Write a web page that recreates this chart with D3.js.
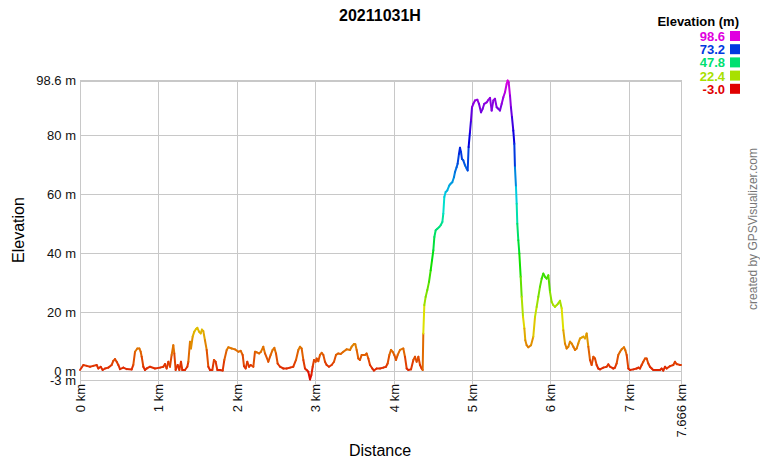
<!DOCTYPE html>
<html>
<head>
<meta charset="utf-8">
<script src="https://cdn.jsdelivr.net/npm/d3@7"></script>
<style>
  body { margin: 0; background: #fff; }
  svg { font-family: "Liberation Sans", Arial, sans-serif; }
</style>
</head>
<body>
<div id="container"></div>
<script>
// track profile (km, m)
let distKm = [
  0.000,0.043,0.085,0.128,0.170,0.213,0.234,0.264,0.289,0.319,0.361,0.404,0.425,0.446,0.468,0.489,0.510,0.553,0.595,0.659,
  0.680,0.702,0.731,0.757,0.774,0.787,0.808,0.829,0.850,0.893,0.957,1.020,1.063,1.084,1.105,1.127,1.148,1.169,1.190,1.203,
  1.220,1.246,1.267,1.288,1.305,1.339,1.369,1.382,1.403,1.416,1.437,1.458,1.480,1.497,1.518,1.539,1.556,1.573,1.594,1.616,
  1.637,1.658,1.688,1.709,1.730,1.752,1.786,1.820,1.841,1.871,1.892,1.935,1.977,2.020,2.049,2.075,2.092,2.113,2.134,2.156,
  2.177,2.211,2.232,2.253,2.283,2.309,2.338,2.360,2.402,2.432,2.457,2.479,2.500,2.521,2.551,2.594,2.636,2.679,2.721,2.755,
  2.785,2.806,2.827,2.849,2.870,2.891,2.912,2.934,2.951,2.968,2.985,3.006,3.019,3.040,3.061,3.083,3.104,3.125,3.146,3.176,
  3.210,3.240,3.265,3.295,3.325,3.359,3.401,3.444,3.465,3.495,3.512,3.529,3.550,3.571,3.593,3.635,3.656,3.678,3.699,3.729,
  3.750,3.784,3.827,3.869,3.903,3.924,3.946,3.967,3.988,4.009,4.031,4.052,4.082,4.124,4.145,4.167,4.188,4.222,4.252,4.273,
  4.294,4.316,4.337,4.358,4.371,4.379,4.392,4.409,4.430,4.452,4.473,4.490,4.507,4.520,4.537,4.558,4.583,4.600,4.622,4.634,
  4.647,4.664,4.685,4.711,4.728,4.749,4.770,4.783,4.804,4.817,4.834,4.847,4.860,4.872,4.889,4.911,4.932,4.945,4.957,4.974,
  4.987,5.000,5.017,5.038,5.068,5.089,5.115,5.136,5.157,5.187,5.208,5.230,5.251,5.272,5.293,5.315,5.336,5.357,5.379,5.400,
  5.421,5.442,5.455,5.468,5.485,5.497,5.510,5.527,5.540,5.548,5.561,5.570,5.578,5.591,5.604,5.621,5.634,5.651,5.668,5.680,
  5.697,5.719,5.753,5.782,5.804,5.825,5.846,5.867,5.889,5.910,5.931,5.952,5.974,5.995,6.016,6.037,6.059,6.080,6.101,6.122,
  6.144,6.165,6.186,6.207,6.229,6.250,6.271,6.293,6.314,6.335,6.356,6.378,6.399,6.420,6.441,6.463,6.484,6.505,6.526,6.548,
  6.569,6.590,6.611,6.633,6.675,6.718,6.739,6.760,6.803,6.824,6.845,6.866,6.888,6.909,6.939,6.956,6.973,6.994,7.015,7.058,
  7.100,7.122,7.143,7.164,7.185,7.207,7.228,7.249,7.270,7.292,7.313,7.355,7.398,7.419,7.440,7.462,7.483,7.526,7.568,7.589,
  7.611,7.653,7.666
];
let elevM = [
  0.4,2.1,1.8,1.5,1.8,2.1,0.9,1.5,0.4,0.9,1.2,2.1,3.5,4.1,3.2,2.1,0.7,1.2,0.7,0.6,
  2.1,6.6,7.7,7.7,6.6,4.9,1.5,0.4,0.9,1.5,0.9,1.2,1.5,2.4,0.9,3.2,1.5,5.5,8.8,6.0,
  0.4,2.1,0.4,3.2,0.4,0.4,1.5,3.2,10.0,7.7,11.7,13.4,14.3,14.7,13.4,12.8,14.1,13.6,10.5,7.2,
  1.5,0.4,0.4,3.8,3.2,0.4,0.4,0.2,3.8,7.2,8.1,7.7,7.4,6.6,6.9,5.5,1.7,0.9,3.2,1.5,
  2.1,1.5,6.6,6.4,6.0,6.6,8.3,6.0,3.2,5.5,7.2,7.9,6.0,2.6,1.5,0.9,0.9,1.2,1.5,3.8,
  7.2,8.3,7.7,3.8,0.9,0.4,-0.2,-2.8,-1.3,1.5,3.8,3.2,4.3,3.4,5.5,6.2,5.5,3.2,2.1,1.5,
  2.1,3.2,5.5,6.0,5.8,6.6,7.4,7.2,8.3,9.2,9.1,7.2,4.3,3.8,5.5,5.5,6.0,4.3,2.1,0.9,
  0.2,0.9,0.9,1.2,1.5,2.6,5.5,7.2,6.6,5.5,3.8,5.5,7.2,7.7,4.9,0.9,0.4,0.6,3.8,4.9,
  3.2,4.9,2.1,0.9,0.4,12.8,22.4,25.2,27.5,30.3,34.2,37.6,41.0,45.5,47.8,48.3,48.9,49.5,50.6,53.4,
  59.1,60.8,61.3,63.0,63.6,64.1,65.8,67.5,69.2,70.4,73.7,75.8,74.3,72.0,71.5,69.8,68.7,68.1,76.0,81.1,
  85.0,89.5,90.7,91.8,92.1,90.7,87.8,89.0,90.7,91.2,92.0,92.7,88.4,91.8,92.4,89.5,89.0,88.4,90.7,92.9,
  94.6,97.4,98.6,98.0,93.5,89.5,86.2,81.6,77.1,69.2,62.5,56.8,50.0,44.4,39.9,32.0,25.2,18.4,14.5,10.5,
  8.8,8.1,8.8,11.7,18.4,21.8,25.2,28.6,31.4,33.1,32.0,31.4,32.5,26.9,23.5,22.4,21.8,22.4,23.0,23.9,
  21.3,13.9,9.4,7.7,8.3,10.0,9.4,8.3,7.2,7.7,9.4,11.1,11.4,11.7,11.1,12.8,8.3,3.8,2.1,4.9,
  4.3,2.1,0.9,0.6,1.2,1.5,2.3,1.5,0.9,1.2,2.6,5.5,6.6,7.4,8.1,7.1,5.5,0.9,0.4,0.6,
  0.9,1.2,0.9,2.1,3.2,4.3,4.3,2.6,1.5,0.9,0.4,0.4,0.4,0.9,0.2,1.5,0.9,1.7,2.1,3.2,
  2.4,2.1,2.1
];

let yTicks = [-3, 0, 20, 40, 60, 80, 98.6];
let yTickLabels = ["-3 m", "0 m", "20 m", "40 m", "60 m", "80 m", "98.6 m"];
let xTicks = [0, 1, 2, 3, 4, 5, 6, 7, 7.666];
let xTickLabels = ["0 km", "1 km", "2 km", "3 km", "4 km", "5 km", "6 km", "7 km", "7.666 km"];
let legendValues = [98.6, 73.2, 47.8, 22.4, -3.0];
let legendLabels = ["98.6", "73.2", "47.8", "22.4", "-3.0"];

let titleText = "20211031H";

let w = 760;
let h = 460;
let plotLeft = 80;
let plotRight = 681;
let plotTop = 80.5;
let plotBottom = 380;

let viz = d3.select("#container")
  .append("svg")
    .attr("width", w)
    .attr("height", h)
;

let xScale = d3.scaleLinear().domain([0, 7.666]).range([plotLeft, plotRight]);
let yScale = d3.scaleLinear().domain([-3, 98.6]).range([plotBottom, plotTop]);

// hue runs red -> magenta along the elevation range
let hueScale = d3.scaleLinear().domain([-3, 98.6]).range([0, 300]);
function elevColor(v){
  return d3.hsl(hueScale(v), 1, 0.44).formatHex();
}

// grid
let gridGroup = viz.append("g").attr("class", "grid");

let yAxis = d3.axisLeft(yScale)
  .tickValues(yTicks)
  .tickSize(-(plotRight - plotLeft))
  .tickFormat(function(d, i){ return yTickLabels[i]; })
;
let yAxisGroup = gridGroup.append("g")
  .attr("transform", "translate(" + plotLeft + ",0)")
  .call(yAxis);
yAxisGroup.select(".domain").remove();
yAxisGroup.selectAll("line").attr("stroke", "#c8c8c8").attr("shape-rendering", "crispEdges");
yAxisGroup.selectAll("text")
  .attr("x", -4)
  .attr("fill", "#111")
  .style("font-size", "13px")
  .style("font-family", "'Liberation Sans', Arial, sans-serif");

let xAxis = d3.axisBottom(xScale)
  .tickValues(xTicks)
  .tickSize(-(plotBottom - plotTop))
  .tickFormat(function(d, i){ return xTickLabels[i]; })
;
let xAxisGroup = gridGroup.append("g")
  .attr("transform", "translate(0," + plotBottom + ")")
  .call(xAxis);
xAxisGroup.select(".domain").remove();
xAxisGroup.selectAll("line")
  .attr("y2", -(plotBottom - plotTop))
  .attr("y1", 4)
  .attr("stroke", "#c8c8c8")
  .attr("shape-rendering", "crispEdges");
xAxisGroup.selectAll("text")
  .attr("transform", "translate(0,4) rotate(-90)")
  .attr("x", 0)
  .attr("y", 0)
  .attr("dy", "0.35em")
  .attr("text-anchor", "end")
  .attr("fill", "#111")
  .style("font-size", "13px")
  .style("font-family", "'Liberation Sans', Arial, sans-serif");

// plot frame
viz.append("rect")
  .attr("x", plotLeft)
  .attr("y", plotTop)
  .attr("width", plotRight - plotLeft)
  .attr("height", plotBottom - plotTop)
  .attr("fill", "none")
  .attr("stroke", "#c8c8c8")
  .attr("shape-rendering", "crispEdges");

// elevation line, one coloured piece per step
let points = distKm.map(function(d, i){ return {km: d, m: elevM[i]}; });
let pieces = d3.pairs(points);

let lineMaker = d3.line()
  .x(function(d){ return xScale(d.km); })
  .y(function(d){ return yScale(d.m); })
;

viz.append("g").attr("class", "profile")
  .selectAll("path").data(pieces).enter()
  .append("path")
    .attr("d", lineMaker)
    .attr("fill", "none")
    .attr("stroke", function(d){ return elevColor((d[0].m + d[1].m) / 2); })
    .attr("stroke-width", 2)
    .attr("stroke-linecap", "round")
;

// title
viz.append("text")
  .attr("x", 380)
  .attr("y", 21)
  .attr("text-anchor", "middle")
  .style("font-size", "16px")
  .style("font-weight", "bold")
  .text(titleText);

// axis titles
viz.append("text")
  .attr("transform", "translate(24,230) rotate(-90)")
  .attr("text-anchor", "middle")
  .style("font-size", "16px")
  .text("Elevation");

viz.append("text")
  .attr("x", 380)
  .attr("y", 456)
  .attr("text-anchor", "middle")
  .style("font-size", "16px")
  .text("Distance");

// credit
viz.append("text")
  .attr("transform", "translate(757,229) rotate(-90)")
  .attr("text-anchor", "middle")
  .attr("fill", "#777")
  .style("font-size", "12px")
  .text("created by GPSVisualizer.com");

// legend
let legend = viz.append("g").attr("class", "legend");
legend.append("text")
  .attr("x", 739)
  .attr("y", 26)
  .attr("text-anchor", "end")
  .style("font-size", "13px")
  .style("font-weight", "bold")
  .text("Elevation (m)");

let rows = legend.selectAll(".row").data(legendValues).enter()
  .append("g")
    .attr("class", "row")
    .attr("transform", function(d, i){ return "translate(0," + (31 + i * 13.2) + ")"; })
;
rows.append("rect")
  .attr("x", 730)
  .attr("y", 0)
  .attr("width", 10)
  .attr("height", 10)
  .attr("fill", function(d){ return elevColor(d); });
rows.append("text")
  .attr("x", 725)
  .attr("y", 10)
  .attr("text-anchor", "end")
  .attr("fill", function(d){ return elevColor(d); })
  .style("font-size", "13px")
  .style("font-weight", "bold")
  .text(function(d, i){ return legendLabels[i]; });
</script>
</body>
</html>
